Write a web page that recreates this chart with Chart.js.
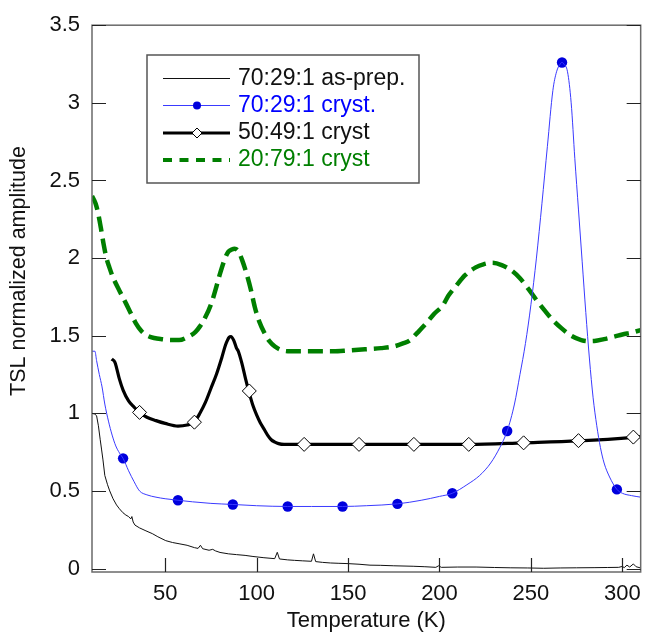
<!DOCTYPE html>
<html><head><meta charset="utf-8">
<script src="https://cdn.jsdelivr.net/npm/chart.js@4.4.1/dist/chart.umd.min.js"></script>
<style>html,body{margin:0;padding:0;background:#fff}#wrap{width:650px;height:637px}</style>
</head><body><div id="wrap"><canvas id="c" width="650" height="637"></canvas></div>
<script>
// ---------- data ----------
const xTicks = [50, 100, 150, 200, 250, 300];
const yTicks = [0, 0.5, 1, 1.5, 2, 2.5, 3, 3.5];
const seriesNames = ['70:29:1 as-prep.', '70:29:1 cryst.', '50:49:1 cryst', '20:79:1 cryst'];
const xTitle = 'Temperature (K)';
const yTitle = 'TSL normalized amplitude';

const asPrepT = [10,11.5,12.5,13.5,14.5,15.2,16,17,18.5,19.7,21.5,23.4,25,26.9,28.5,30,31.2,31.8,32.5,33.5,36,39.5,43,46,50.3,54,57.6,62,66,68,69.3,70.5,74,76,77.5,80,84.6,89,93.7,98,104,109.9,111.3,112.5,117,120.7,125,130,131.1,132.3,136,140.5,145,150,156,162,167.6,175,185.6,192,198,199.5,201,210,220,230,239,248,257,266,275,285,292,298,300,301,302.5,304,306,307.5,310];
const asPrepV = [1.0,0.995,0.985,0.92,0.83,0.77,0.70,0.60,0.54,0.50,0.45,0.41,0.385,0.36,0.345,0.335,0.32,0.335,0.30,0.28,0.262,0.243,0.225,0.205,0.18,0.168,0.16,0.15,0.135,0.13,0.15,0.128,0.118,0.124,0.114,0.104,0.095,0.09,0.085,0.078,0.07,0.064,0.105,0.062,0.056,0.053,0.05,0.047,0.095,0.045,0.04,0.036,0.034,0.032,0.028,0.022,0.021,0.018,0.015,0.012,0.008,0.018,0.008,0.01,0.01,0.007,0.005,0.004,0.002,0.004,0.005,0.006,0.007,0.008,0.014,0.006,0.022,0.01,0.03,0.012,0.004];

const crystT = [10,11.6,12.5,14,15.5,17,19,21,23,25,27,30,33,36,40,45,50,57,65,75,87,100,117,130,147,160,177,190,200,207,215,222,228,233,237,241,244,247,250,253,256,259,262,264,266,267,268,270,272,274,276,278,280,282,284,286,288,290,293,297,300,305,310];
const crystV = [1.40,1.40,1.34,1.25,1.17,1.06,0.95,0.86,0.79,0.745,0.71,0.63,0.56,0.50,0.475,0.46,0.45,0.44,0.43,0.42,0.413,0.405,0.40,0.40,0.40,0.405,0.417,0.44,0.465,0.485,0.54,0.60,0.68,0.78,0.886,1.06,1.25,1.45,1.70,2.0,2.35,2.72,3.08,3.2,3.25,3.26,3.25,3.2,3.0,2.64,2.31,1.98,1.65,1.35,1.10,0.92,0.78,0.68,0.59,0.51,0.485,0.47,0.46];
const crystMarkT = [27,57,87,117,147,177,207,237,267,297];
const crystMarkV = [0.71,0.44,0.413,0.40,0.40,0.417,0.485,0.886,3.26,0.51];

const c50T = [20.8,22.5,23.5,25,27,30,33,36,40,45,50,57,62,66,69,72,75,78,81,83,85,86,87.5,89,90,92,94,96,98,100,102,104,106,108,110,112,115,130,156,186,216,246,276,306,310];
const c50V = [1.35,1.33,1.29,1.22,1.15,1.08,1.04,1.005,0.975,0.953,0.935,0.918,0.925,0.945,1.0,1.07,1.16,1.25,1.36,1.44,1.49,1.495,1.47,1.42,1.40,1.32,1.22,1.13,1.05,0.99,0.94,0.90,0.86,0.83,0.815,0.805,0.80,0.80,0.80,0.80,0.80,0.81,0.822,0.845,0.85];
const c50MarkT = [36,66,96,126,156,186,216,246,276,306];
const c50MarkV = [1.006,0.943,1.144,0.80,0.80,0.80,0.80,0.81,0.824,0.847];

const c20T = [10,12,13.5,15.2,16.5,17.9,19.5,21.5,25,28.7,31,34,37,39.5,44,48.6,53,57.6,62,66.6,69,72,75,77.4,80,82.8,84.5,86.4,88,90,92,94.5,97,99,101.5,104.4,107,110,113,117,125,135,142,150,160,168,174.7,180,183.8,188,192.8,197,201.8,205,209,214,219.8,224,228.9,234,239.7,244,248.7,253,257.7,262,266.8,272,277.5,281,284.7,290,295.6,300,305,310];
const c20V = [2.40,2.35,2.28,2.17,2.08,2.0,1.94,1.875,1.79,1.705,1.65,1.58,1.53,1.505,1.485,1.477,1.472,1.472,1.49,1.525,1.56,1.62,1.70,1.79,1.90,2.0,2.04,2.055,2.06,2.045,1.99,1.90,1.79,1.685,1.59,1.515,1.465,1.43,1.41,1.40,1.40,1.40,1.40,1.405,1.413,1.42,1.43,1.45,1.47,1.52,1.58,1.64,1.695,1.76,1.82,1.89,1.94,1.96,1.97,1.955,1.917,1.87,1.80,1.73,1.66,1.60,1.547,1.50,1.472,1.465,1.466,1.478,1.494,1.508,1.52,1.536];

const xy = (t, v) => t.map((x, i) => ({x: x, y: v[i]}));

const FONT = 'Liberation Sans, Arial, sans-serif';
const BLUE_LINE = '#3a3aff', BLUE_MARK = '#0000dd', GREEN = '#007f00';

// ---------- custom drawing: frame, inward ticks, legend, y title ----------
const decor = {
  id: 'decor',
  afterDraw(chart) {
    const {ctx, chartArea: a, scales: {x, y}} = chart;
    ctx.save();
    // frame
    ctx.strokeStyle = '#6a6a6a'; ctx.lineWidth = 1.5;
    ctx.strokeRect(a.left, a.top, a.right - a.left, a.bottom - a.top);
    // ticks inward
    ctx.strokeStyle = '#222'; ctx.lineWidth = 1.2;
    ctx.beginPath();
    xTicks.forEach(v => { const px = Math.round(x.getPixelForValue(v)) + 0.5; ctx.moveTo(px, a.bottom); ctx.lineTo(px, a.bottom - 14); });
    yTicks.forEach(v => { const py = Math.round(y.getPixelForValue(v)) + 0.5;
      ctx.moveTo(a.left, py); ctx.lineTo(a.left + 14, py);
      ctx.moveTo(a.right, py); ctx.lineTo(a.right - 14, py); });
    ctx.stroke();
    // y title
    ctx.fillStyle = '#111'; ctx.font = '21.5px ' + FONT;
    ctx.textAlign = 'center'; ctx.textBaseline = 'middle';
    ctx.translate(19, 271); ctx.rotate(-Math.PI / 2); ctx.fillText(yTitle, 0, 0);
    ctx.restore();

    // legend
    ctx.save();
    const L = 147, T = 55, W = 272, H = 128;
    ctx.fillStyle = '#fff'; ctx.fillRect(L, T, W, H);
    ctx.strokeStyle = '#555'; ctx.lineWidth = 1.5; ctx.strokeRect(L, T, W, H);
    const rows = [78.5, 105.5, 133, 160];
    const x0 = 163, x1 = 230, xm = 197, tx = 238;
    ctx.font = '23px ' + FONT; ctx.textAlign = 'left'; ctx.textBaseline = 'middle';
    // row 1
    ctx.strokeStyle = '#111'; ctx.lineWidth = 1;
    ctx.beginPath(); ctx.moveTo(x0, rows[0]); ctx.lineTo(x1, rows[0]); ctx.stroke();
    ctx.fillStyle = '#111'; ctx.fillText(seriesNames[0], tx, rows[0]);
    // row 2
    ctx.strokeStyle = BLUE_LINE; ctx.lineWidth = 1;
    ctx.beginPath(); ctx.moveTo(x0, rows[1]); ctx.lineTo(x1, rows[1]); ctx.stroke();
    ctx.fillStyle = BLUE_MARK; ctx.beginPath(); ctx.arc(xm, rows[1], 4, 0, Math.PI * 2); ctx.fill();
    ctx.fillStyle = '#0000ff'; ctx.fillText(seriesNames[1], tx, rows[1]);
    // row 3
    ctx.strokeStyle = '#000'; ctx.lineWidth = 3;
    ctx.beginPath(); ctx.moveTo(x0, rows[2]); ctx.lineTo(x1, rows[2]); ctx.stroke();
    ctx.fillStyle = '#fff'; ctx.strokeStyle = '#000'; ctx.lineWidth = 1;
    ctx.beginPath(); ctx.moveTo(xm - 5, rows[2]); ctx.lineTo(xm, rows[2] - 5); ctx.lineTo(xm + 5, rows[2]); ctx.lineTo(xm, rows[2] + 5); ctx.closePath(); ctx.fill(); ctx.stroke();
    ctx.fillStyle = '#111'; ctx.fillText(seriesNames[2], tx, rows[2]);
    // row 4
    ctx.strokeStyle = GREEN; ctx.lineWidth = 4; ctx.setLineDash([9, 7.5]);
    ctx.beginPath(); ctx.moveTo(x0, rows[3]); ctx.lineTo(x1, rows[3]); ctx.stroke();
    ctx.setLineDash([]);
    ctx.fillStyle = GREEN; ctx.fillText(seriesNames[3], tx, rows[3]);
    ctx.restore();
  }
};

new Chart(document.getElementById('c'), {
  type: 'scatter',
  data: {
    datasets: [
      { label: seriesNames[0], data: xy(asPrepT, asPrepV), showLine: true, borderColor: '#111', borderWidth: 1, pointRadius: 0, tension: 0, order: 0 },
      { label: seriesNames[1], data: xy(crystT, crystV), showLine: true, borderColor: BLUE_LINE, borderWidth: 1, pointRadius: 0, cubicInterpolationMode: 'monotone', order: 1 },
      { label: seriesNames[1] + ' markers', data: xy(crystMarkT, crystMarkV), showLine: false, pointStyle: 'circle', pointRadius: 5.2, backgroundColor: BLUE_MARK, borderColor: BLUE_MARK, borderWidth: 0, order: 1 },
      { label: seriesNames[2], data: xy(c50T, c50V), showLine: true, borderColor: '#000', borderWidth: 3.2, pointRadius: 0, cubicInterpolationMode: 'monotone', order: 3 },
      { label: seriesNames[2] + ' markers', data: xy(c50MarkT, c50MarkV), showLine: false, pointStyle: 'rectRot', pointRadius: 7, backgroundColor: '#fff', borderColor: '#000', borderWidth: 1, order: 2 },
      { label: seriesNames[3], data: xy(c20T, c20V), showLine: true, borderColor: GREEN, borderWidth: 4.5, borderDash: [15, 7], pointRadius: 0, cubicInterpolationMode: 'monotone', order: 4 }
    ]
  },
  options: {
    responsive: false, animation: false, devicePixelRatio: 1,
    layout: { padding: { top: 18, right: 3, left: 0, bottom: 0 } },
    plugins: { legend: { display: false }, tooltip: { enabled: false } },
    scales: {
      x: {
        type: 'linear', min: 10, max: 310,
        grid: { display: false, drawTicks: false }, border: { display: false },
        ticks: { padding: 9, color: '#111', font: { family: FONT, size: 22 } },
        afterBuildTicks: s => { s.ticks = xTicks.map(v => ({ value: v })); },
        afterFit: s => { s.height = 65; },
        title: { display: true, text: xTitle, color: '#111', font: { family: FONT, size: 22 }, padding: { top: 0, bottom: 3 } }
      },
      y: {
        type: 'linear', min: -0.022, max: 3.5,
        grid: { display: false, drawTicks: false }, border: { display: false },
        ticks: { padding: 12, color: '#111', font: { family: FONT, size: 22 }, callback: v => String(v) },
        afterBuildTicks: s => { s.ticks = yTicks.map(v => ({ value: v })); },
        afterFit: s => { s.width = 92; }
      }
    }
  },
  plugins: [decor]
});
</script></body></html>
